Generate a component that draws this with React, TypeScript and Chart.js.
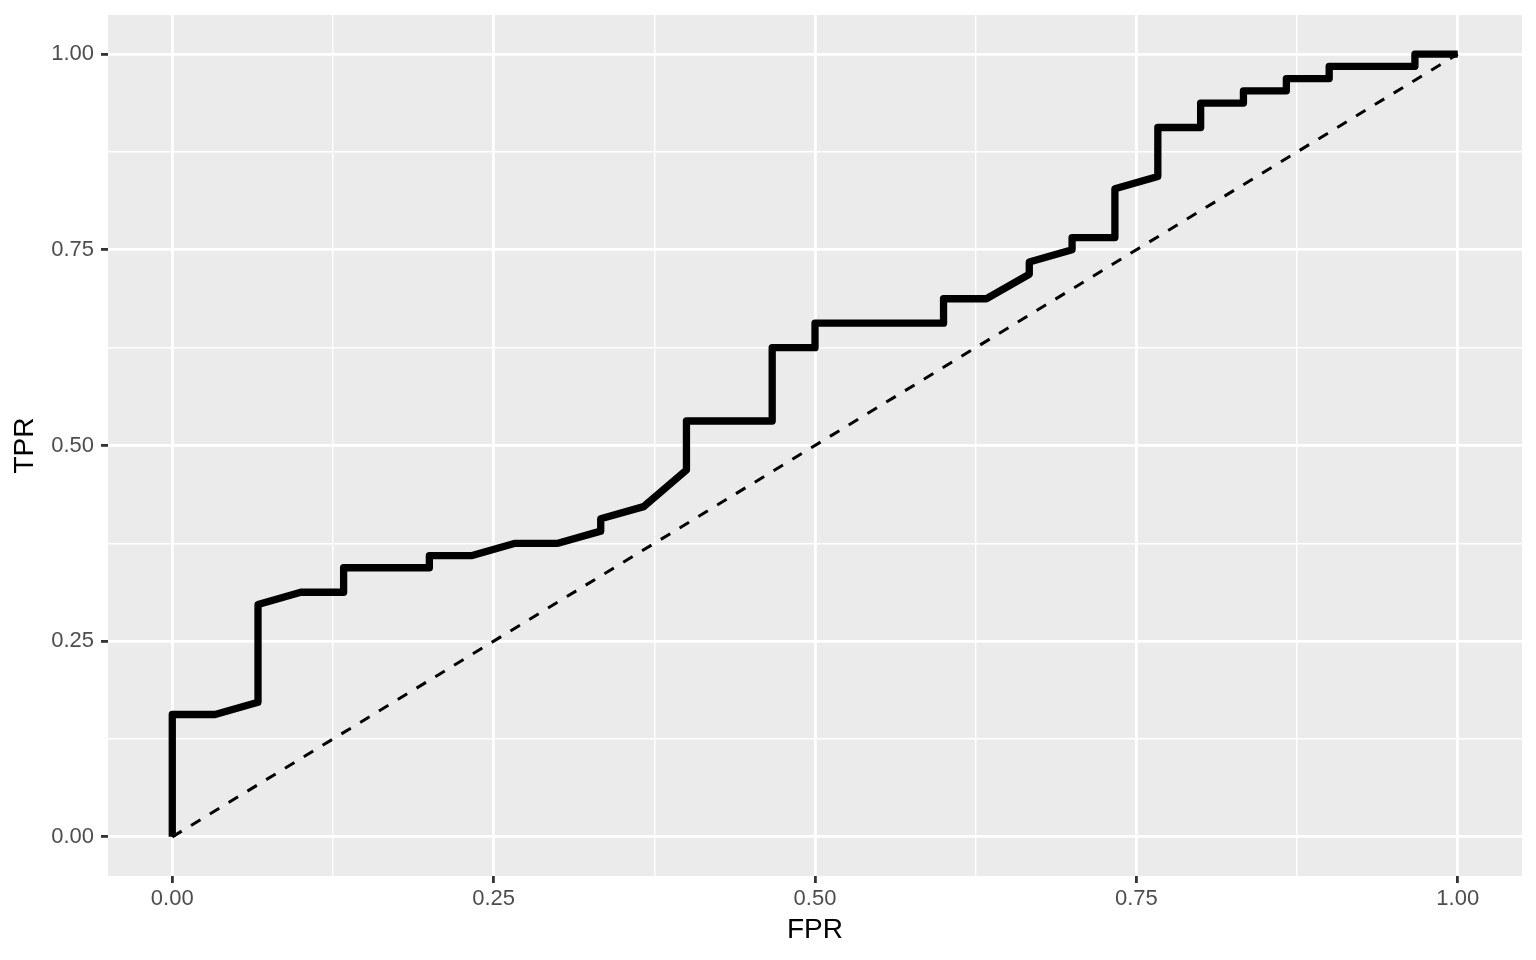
import React, { useEffect, useRef } from "react";
import { Chart, registerables } from "chart.js";

Chart.register(...registerables);

// ROC curve values
const fprValues = [
  0, 0, 0.0333, 0.0667, 0.0667, 0.1, 0.1333, 0.1333, 0.2, 0.2,
  0.2333, 0.2667, 0.3, 0.3333, 0.3333, 0.3667, 0.4, 0.4, 0.4667, 0.4667,
  0.5, 0.5, 0.6, 0.6, 0.6333, 0.6667, 0.6667, 0.7, 0.7, 0.7333,
  0.7333, 0.7667, 0.7667, 0.8, 0.8, 0.8333, 0.8333, 0.8667, 0.8667, 0.9,
  0.9, 0.9667, 0.9667, 1,
];
const tprValues = [
  0, 0.1563, 0.1563, 0.1719, 0.2969, 0.3125, 0.3125, 0.3438, 0.3438, 0.3594,
  0.3594, 0.375, 0.375, 0.3906, 0.4063, 0.4219, 0.4688, 0.5313, 0.5313, 0.625,
  0.625, 0.6563, 0.6563, 0.6875, 0.6875, 0.7188, 0.7344, 0.75, 0.7656, 0.7656,
  0.8281, 0.8438, 0.9063, 0.9063, 0.9375, 0.9375, 0.9531, 0.9531, 0.9688, 0.9688,
  0.9844, 0.9844, 1, 1,
];
const diagX = [0, 1];
const diagY = [0, 1];

const majorTicks = [0, 0.25, 0.5, 0.75, 1];
const minorTicks = [0.125, 0.375, 0.625, 0.875];
const tickLabels = ["0.00", "0.25", "0.50", "0.75", "1.00"];

const FONT = "'Liberation Sans', Arial, Helvetica, sans-serif";

const isMajor = (v: number) => majorTicks.some((m) => Math.abs(m - v) < 1e-9);
const labelFor = (v: number) => {
  const i = majorTicks.findIndex((m) => Math.abs(m - v) < 1e-9);
  return i >= 0 ? tickLabels[i] : "";
};

const panelBg = {
  id: "panelBg",
  beforeDraw(chart: any) {
    const { ctx, chartArea } = chart;
    ctx.save();
    ctx.fillStyle = "#EBEBEB";
    ctx.fillRect(chartArea.left, chartArea.top, chartArea.right - chartArea.left, chartArea.bottom - chartArea.top);
    ctx.restore();
  },
};

function makeScale(title: string, isX: boolean, titlePad: any) {
  return {
    type: "linear",
    min: -0.05,
    max: 1.05,
    afterBuildTicks: (s: any) => {
      s.ticks = [...majorTicks, ...minorTicks].sort((a, b) => a - b).map((v) => ({ value: v }));
    },
    afterFit: (s: any) => {
      if (isX) s.height = 84;
      else s.width = 108;
      s.paddingTop = 0;
      s.paddingBottom = 0;
      s.paddingLeft = 0;
      s.paddingRight = 0;
    },
    ticks: {
      autoSkip: false,
      maxRotation: 0,
      minRotation: 0,
      padding: isX ? 3 : 7,
      color: "#4D4D4D",
      font: { family: FONT, size: 22 },
      callback: (v: number) => labelFor(v),
    },
    grid: {
      color: "#FFFFFF",
      lineWidth: (ctx: any) => (isMajor(ctx.tick.value) ? 2.8 : 1.4),
      tickColor: (ctx: any) => (isMajor(ctx.tick.value) ? "#333333" : "rgba(0,0,0,0)"),
      tickWidth: (ctx: any) => (isMajor(ctx.tick.value) ? 2.8 : 0),
      tickLength: 7,
      drawTicks: true,
    },
    border: { display: false },
    title: {
      display: true,
      text: title,
      color: "#000000",
      font: { family: FONT, size: 28 },
      padding: titlePad,
    },
  };
}

export default function App() {
  const ref = useRef<HTMLCanvasElement | null>(null);

  useEffect(() => {
    if (!ref.current) return;
    const rocData = fprValues.map((x, i) => ({ x, y: tprValues[i] }));
    const diagData = diagX.map((x, i) => ({ x, y: diagY[i] }));
    const chart = new Chart(ref.current, {
      type: "scatter",
      data: {
        datasets: [
          {
            data: rocData,
            showLine: true,
            borderColor: "#000000",
            backgroundColor: "#000000",
            borderWidth: 7.3,
            borderJoinStyle: "round",
            borderCapStyle: "butt",
            pointRadius: 0,
            tension: 0,
            order: 0,
          },
          {
            data: diagData,
            showLine: true,
            borderColor: "#000000",
            backgroundColor: "#000000",
            borderWidth: 3,
            borderDash: [11, 11],
            borderCapStyle: "butt",
            pointRadius: 0,
            tension: 0,
            order: 1,
          },
        ],
      } as any,
      options: {
        responsive: false,
        animation: false,
        devicePixelRatio: 1,
        layout: { padding: { top: 15, right: 14, left: 0, bottom: 0 } },
        plugins: {
          legend: { display: false },
          tooltip: { enabled: false },
        },
        scales: {
          x: makeScale("FPR", true, { top: 0, bottom: 13 }),
          y: makeScale("TPR", false, { top: 8, bottom: 0 }),
        } as any,
      },
      plugins: [panelBg],
    });
    return () => chart.destroy();
  }, []);

  return (
    <div style={{ position: "fixed", left: 0, top: 0, width: 1536, height: 960, background: "#FFFFFF" }}>
      <canvas ref={ref} width={1536} height={960} style={{ display: "block", width: 1536, height: 960 }} />
    </div>
  );
}
